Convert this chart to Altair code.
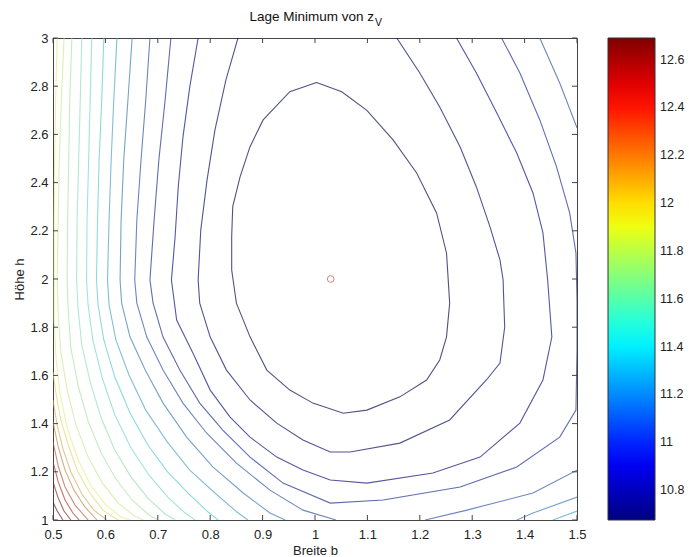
import altair as alt
import pandas as pd

# ---------------- data ----------------
title_main = "Lage Minimum von z"
title_sub = "V"

x_ticks = [0.5, 0.6, 0.7, 0.8, 0.9, 1.0, 1.1, 1.2, 1.3, 1.4, 1.5]
y_ticks = [1.0, 1.2, 1.4, 1.6, 1.8, 2.0, 2.2, 2.4, 2.6, 2.8, 3.0]
cbar_ticks = [10.8, 11.0, 11.2, 11.4, 11.6, 11.8, 12.0, 12.2, 12.4, 12.6]
z_min, z_max = 10.675, 12.69

min_b = [1.03]
min_h = [2.0]

# contour lines: level, Breite b, Hoehe h
c0_lev = 10.7
c0_b = [1.003, 1.051, 1.099, 1.149, 1.194, 1.232, 1.251, 1.257, 1.251, 1.238, 1.213, 1.162, 1.099, 1.054,
        0.996, 0.952, 0.908, 0.876, 0.850, 0.841, 0.841, 0.843, 0.857, 0.876, 0.901, 0.952, 1.003]
c0_h = [2.815, 2.777, 2.700, 2.577, 2.440, 2.274, 2.108, 1.900, 1.760, 1.664, 1.581, 1.511, 1.456, 1.443,
        1.485, 1.539, 1.622, 1.760, 1.900, 2.037, 2.175, 2.300, 2.424, 2.549, 2.660, 2.777, 2.815]

c1_lev = 10.8
c1_b = [0.853, 0.830, 0.809, 0.794, 0.782, 0.777, 0.780, 0.800, 0.831, 0.876, 0.927, 0.977, 1.029, 1.067,
        1.162, 1.257, 1.327, 1.353, 1.362, 1.360, 1.359, 1.353, 1.334, 1.308, 1.277, 1.238, 1.200, 1.156]
c1_h = [3.000, 2.826, 2.618, 2.411, 2.203, 1.996, 1.900, 1.759, 1.622, 1.498, 1.402, 1.332, 1.282, 1.282,
        1.319, 1.415, 1.581, 1.651, 1.800, 1.925, 1.996, 2.079, 2.216, 2.382, 2.548, 2.714, 2.855, 3.000]

c2_lev = 10.9
c2_b = [0.777, 0.761, 0.748, 0.739, 0.733, 0.726, 0.736, 0.767, 0.800, 0.838, 0.876, 0.927, 0.977, 1.029,
        1.099, 1.225, 1.315, 1.391, 1.435, 1.452, 1.444, 1.435, 1.416, 1.385, 1.347, 1.308, 1.270]
c2_h = [3.000, 2.797, 2.589, 2.382, 2.174, 1.996, 1.830, 1.693, 1.539, 1.427, 1.344, 1.261, 1.207, 1.166,
        1.153, 1.195, 1.261, 1.402, 1.581, 1.759, 1.996, 2.191, 2.357, 2.523, 2.689, 2.855, 3.000]

c3_lev = 11.0
c3_b = [0.725, 0.714, 0.702, 0.693, 0.685, 0.691, 0.710, 0.742, 0.780, 0.824, 0.876, 0.939, 1.029, 1.130,
        1.277, 1.385, 1.467, 1.498, 1.500, 1.500, 1.498, 1.486, 1.461, 1.429, 1.391, 1.356]
c3_h = [3.000, 2.743, 2.494, 2.245, 1.996, 1.900, 1.759, 1.622, 1.485, 1.373, 1.261, 1.153, 1.070, 1.083,
        1.137, 1.220, 1.344, 1.456, 1.705, 1.913, 2.108, 2.274, 2.465, 2.660, 2.855, 3.000]

c4a_lev = 11.1
c4a_b = [0.685, 0.677, 0.668, 0.660, 0.656, 0.660, 0.679, 0.710, 0.748, 0.793, 0.850, 0.914, 0.977, 1.040]
c4a_h = [3.000, 2.743, 2.494, 2.245, 1.996, 1.900, 1.759, 1.622, 1.485, 1.361, 1.236, 1.124, 1.041, 1.000]
c4b_lev = 11.1
c4b_b = [1.210, 1.290, 1.416, 1.500]
c4b_h = [1.000, 1.041, 1.112, 1.207]
c4c_lev = 11.1
c4c_b = [1.429, 1.467, 1.500]
c4c_h = [3.000, 2.813, 2.627]

c5a_lev = 11.2
c5a_b = [0.651, 0.643, 0.635, 0.630, 0.628, 0.631, 0.647, 0.676, 0.710, 0.755, 0.805, 0.863, 0.914, 0.943]
c5a_h = [3.000, 2.743, 2.494, 2.245, 1.996, 1.900, 1.759, 1.622, 1.485, 1.344, 1.220, 1.112, 1.029, 1.000]
c5b_lev = 11.2
c5b_b = [1.385, 1.416, 1.500]
c5b_h = [1.000, 1.029, 1.095]

c6a_lev = 11.3
c6a_b = [0.622, 0.616, 0.611, 0.607, 0.604, 0.607, 0.620, 0.645, 0.677, 0.718, 0.761, 0.809, 0.851, 0.872]
c6a_h = [3.000, 2.743, 2.494, 2.245, 1.996, 1.892, 1.747, 1.602, 1.456, 1.324, 1.207, 1.112, 1.033, 1.000]
c6b_lev = 11.3
c6b_b = [1.454, 1.500]
c6b_h = [1.000, 1.037]

c7_lev = 11.4
c7_b = [0.597, 0.593, 0.588, 0.585, 0.583, 0.586, 0.597, 0.618, 0.647, 0.681, 0.719, 0.761, 0.796, 0.815]
c7_h = [3.000, 2.743, 2.494, 2.245, 1.996, 1.892, 1.747, 1.593, 1.444, 1.311, 1.199, 1.104, 1.033, 1.000]

c8_lev = 11.5
c8_b = [0.574, 0.571, 0.568, 0.565, 0.564, 0.567, 0.576, 0.594, 0.618, 0.649, 0.683, 0.719, 0.752, 0.771]
c8_h = [3.000, 2.743, 2.494, 2.245, 1.996, 1.892, 1.747, 1.589, 1.436, 1.299, 1.187, 1.095, 1.029, 1.000]

c9_lev = 11.6
c9_b = [0.555, 0.552, 0.549, 0.546, 0.545, 0.548, 0.555, 0.571, 0.592, 0.618, 0.649, 0.681, 0.714, 0.733]
c9_h = [3.000, 2.743, 2.494, 2.245, 1.996, 1.871, 1.726, 1.573, 1.423, 1.290, 1.178, 1.091, 1.025, 1.000]

c10_lev = 11.7
c10_b = [0.536, 0.532, 0.530, 0.528, 0.527, 0.529, 0.534, 0.548, 0.567, 0.592, 0.620, 0.651, 0.683, 0.700]
c10_h = [3.000, 2.743, 2.494, 2.245, 1.996, 1.871, 1.714, 1.556, 1.411, 1.278, 1.170, 1.083, 1.021, 1.000]

c11_lev = 11.8
c11_b = [0.521, 0.516, 0.512, 0.510, 0.508, 0.510, 0.515, 0.527, 0.544, 0.567, 0.594, 0.624, 0.655, 0.672]
c11_h = [3.000, 2.743, 2.494, 2.245, 1.996, 1.851, 1.697, 1.539, 1.394, 1.261, 1.154, 1.071, 1.017, 1.000]

c12_lev = 11.9
c12_b = [0.508, 0.505, 0.503, 0.502, 0.502, 0.502, 0.506, 0.513, 0.527, 0.548, 0.573, 0.601, 0.630, 0.647]
c12_h = [3.000, 2.743, 2.494, 2.245, 1.996, 1.830, 1.664, 1.531, 1.382, 1.249, 1.141, 1.062, 1.012, 1.000]

c13_lev = 12.0
c13_b = [0.500, 0.506, 0.515, 0.529, 0.546, 0.569, 0.595, 0.624]
c13_h = [1.614, 1.519, 1.415, 1.311, 1.207, 1.116, 1.041, 1.000]

c14_lev = 12.1
c14_b = [0.500, 0.508, 0.519, 0.534, 0.555, 0.578, 0.603]
c14_h = [1.498, 1.394, 1.295, 1.199, 1.108, 1.041, 1.000]

c15_lev = 12.2
c15_b = [0.500, 0.510, 0.523, 0.540, 0.561, 0.584]
c15_h = [1.407, 1.303, 1.207, 1.124, 1.054, 1.000]

c16_lev = 12.3
c16_b = [0.500, 0.510, 0.523, 0.542, 0.567]
c16_h = [1.324, 1.224, 1.137, 1.062, 1.000]

c17_lev = 12.4
c17_b = [0.500, 0.510, 0.523, 0.538, 0.550]
c17_h = [1.241, 1.158, 1.083, 1.029, 1.000]

c18_lev = 12.5
c18_b = [0.500, 0.510, 0.521, 0.534]
c18_h = [1.158, 1.091, 1.037, 1.000]

c19_lev = 12.6
c19_b = [0.500, 0.508, 0.519]
c19_h = [1.075, 1.037, 1.000]

segments = [
    ("c0", c0_lev, c0_b, c0_h), ("c1", c1_lev, c1_b, c1_h), ("c2", c2_lev, c2_b, c2_h),
    ("c3", c3_lev, c3_b, c3_h), ("c4a", c4a_lev, c4a_b, c4a_h), ("c4b", c4b_lev, c4b_b, c4b_h),
    ("c4c", c4c_lev, c4c_b, c4c_h), ("c5a", c5a_lev, c5a_b, c5a_h), ("c5b", c5b_lev, c5b_b, c5b_h),
    ("c6a", c6a_lev, c6a_b, c6a_h), ("c6b", c6b_lev, c6b_b, c6b_h), ("c7", c7_lev, c7_b, c7_h),
    ("c8", c8_lev, c8_b, c8_h), ("c9", c9_lev, c9_b, c9_h), ("c10", c10_lev, c10_b, c10_h),
    ("c11", c11_lev, c11_b, c11_h), ("c12", c12_lev, c12_b, c12_h), ("c13", c13_lev, c13_b, c13_h),
    ("c14", c14_lev, c14_b, c14_h), ("c15", c15_lev, c15_b, c15_h), ("c16", c16_lev, c16_b, c16_h),
    ("c17", c17_lev, c17_b, c17_h), ("c18", c18_lev, c18_b, c18_h), ("c19", c19_lev, c19_b, c19_h),
]

rows = []
for name, lev, bs, hs in segments:
    for i, (bv, hv) in enumerate(zip(bs, hs)):
        rows.append({"seg": name, "level": lev, "b": bv, "h": hv, "i": i})
df = pd.DataFrame(rows)

# ---------------- styling ----------------
FONT = "Liberation Sans"
W, H = 524, 482
# jet colormap (colorbar) and a muted version of it for the thin contour lines
jet_range = ["#000080", "#0000ff", "#0080ff", "#00ffff", "#80ff80", "#ffff00", "#ff8000", "#ff0000", "#800000"]
jet_muted = ["#080842", "#101083", "#3973ac", "#62d5d5", "#a9e2a9", "#efef7c", "#c68d53", "#9d2a2a", "#4f1515"]
jet_domain = [z_min + (z_max - z_min) * k / 8 for k in range(9)]
# same stops for the line colours, kept as a separate scale (no legend of its own)
line_domain = [round(v, 4) + 1e-4 for v in jet_domain]

xscale = alt.Scale(domain=[0.5, 1.5], nice=False, zero=False)
yscale = alt.Scale(domain=[1.0, 3.0], nice=False, zero=False)

lines = alt.Chart(df).mark_line(strokeWidth=1.1, opacity=0.7, clip=True).encode(
    x=alt.X("b:Q", scale=xscale,
            axis=alt.Axis(values=x_ticks, format="~g", title="Breite b", labelFlush=False,
                          labelPadding=8, titlePadding=3)),
    y=alt.Y("h:Q", scale=yscale,
            axis=alt.Axis(values=y_ticks, format="~g", title="Höhe h", labelFlush=False,
                          labelPadding=5, titlePadding=3)),
    stroke=alt.Stroke("level:Q", scale=alt.Scale(domain=line_domain, range=jet_muted, interpolate="rgb"),
                      legend=None),
    detail="seg:N",
    order="i:Q",
)

# zero-length line layer that only carries the colorbar (gradient legend, full jet colours)
cbar_df = pd.DataFrame({"zv": cbar_ticks})
cbar = alt.Chart(cbar_df).mark_line(opacity=1, strokeWidth=0).encode(
    x=alt.value(0), y=alt.value(0),
    color=alt.Color("zv:Q", scale=alt.Scale(domain=jet_domain, range=jet_range, interpolate="rgb"),
                    legend=alt.Legend(title=None, orient="right", offset=31, padding=0,
                                      direction="vertical", gradientLength=H, gradientThickness=47,
                                      values=cbar_ticks, format="~g", labelFontSize=12.5,
                                      labelFont=FONT, labelColor="#222", labelOffset=5,
                                      gradientStrokeColor="#333", gradientStrokeWidth=1)),
)

min_df = pd.DataFrame({"b": min_b, "h": min_h})
min_pt = alt.Chart(min_df).mark_point(shape="circle", size=45, filled=False, color="#d94a4a",
                                      strokeWidth=1).encode(x="b:Q", y="h:Q")

xt_df = pd.DataFrame({"b": x_ticks})
yt_df = pd.DataFrame({"h": y_ticks})
tick_style = dict(color="#444", strokeWidth=1)
xt_bottom = alt.Chart(xt_df).mark_rule(**tick_style).encode(x="b:Q", y=alt.value(H), y2=alt.value(H - 5))
xt_top = alt.Chart(xt_df).mark_rule(**tick_style).encode(x="b:Q", y=alt.value(0), y2=alt.value(5))
yt_left = alt.Chart(yt_df).mark_rule(**tick_style).encode(y="h:Q", x=alt.value(0), x2=alt.value(5))
yt_right = alt.Chart(yt_df).mark_rule(**tick_style).encode(y="h:Q", x=alt.value(W), x2=alt.value(W - 5))

t_main = alt.Chart(pd.DataFrame({"t": [title_main]})).mark_text(
    align="right", baseline="middle", font=FONT, fontSize=13.5, color="#111"
).encode(text="t:N", x=alt.value(321), y=alt.value(-21))
t_sub = alt.Chart(pd.DataFrame({"t": [title_sub]})).mark_text(
    align="left", baseline="middle", font=FONT, fontSize=10.5, color="#111"
).encode(text="t:N", x=alt.value(322), y=alt.value(-15))

chart = alt.layer(cbar, lines, min_pt, xt_bottom, xt_top, yt_left, yt_right, t_main, t_sub).properties(
    width=W, height=H,
    autosize=alt.AutoSizeParams(type="none"),
    padding={"left": 53, "top": 38, "right": 112, "bottom": 37},
    background="white",
).configure_view(
    stroke="#444", strokeWidth=1
).configure_axis(
    domain=False, ticks=False, tickSize=0, grid=False,
    labelFont=FONT, labelFontSize=13, labelColor="#222",
    titleFont=FONT, titleFontSize=13, titleFontWeight="normal", titleColor="#222",
)

chart.save("out.html", embed_options={"renderer": "svg", "actions": False})
